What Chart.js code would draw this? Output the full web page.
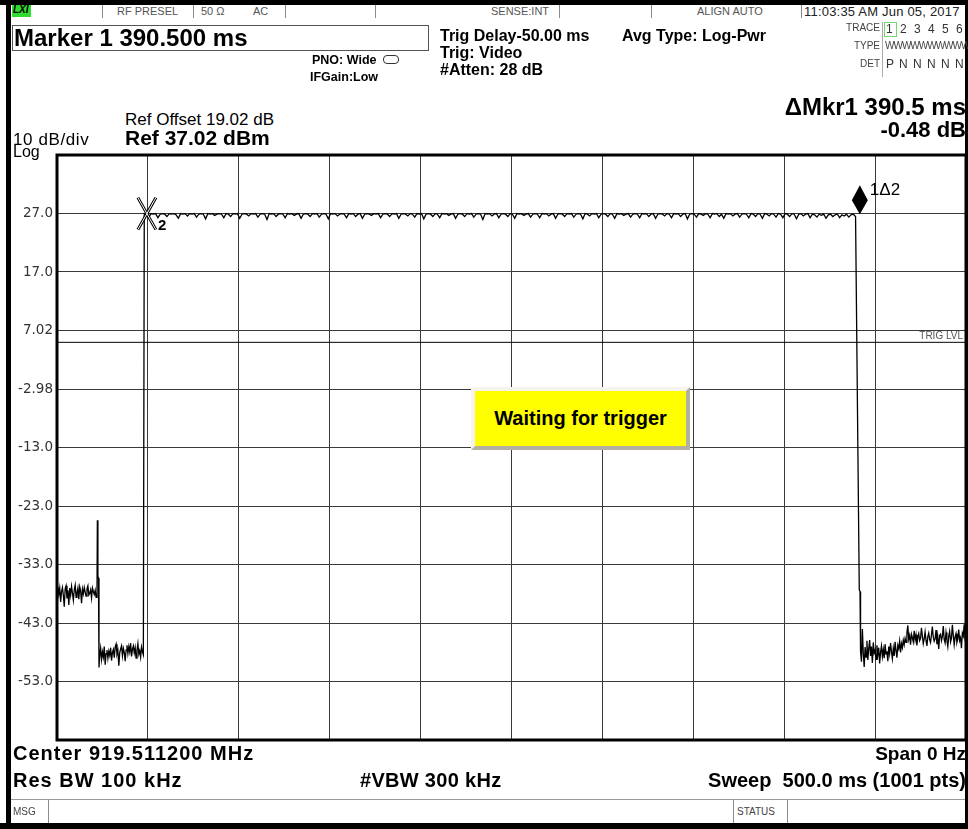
<!DOCTYPE html>
<html>
<head>
<meta charset="utf-8">
<script src="https://cdn.jsdelivr.net/npm/chart.js@4.4.0/dist/chart.umd.min.js"></script>
<style>
  body { margin: 0; background: #fff; }
  #screen { position: relative; width: 968px; height: 829px; overflow: hidden;
            font-family: "Liberation Sans", Arial, sans-serif; color: #000; background: #fff; }
  .t { position: absolute; white-space: pre; line-height: 1; }
  .b { font-weight: bold; }
  .bar { position: absolute; background: #000; }
  .sep { position: absolute; width: 1px; background: #8a8a8a; }
  .stat { font-size: 11px; color: #555; }
  .small { font-size: 10px; color: #444; }
  #plot { position: absolute; left: 12px; top: 141px; }
  #wait { position: absolute; left: 471px; top: 387px; width: 219px; height: 63px; box-sizing: border-box;
          border: 4px solid; border-color: #f6f4ec #b3afa3 #b3afa3 #f6f4ec; background: #ffff00;
          font-weight: bold; font-size: 20px; display: flex; align-items: center; justify-content: center; z-index: 3; }
</style>
</head>
<body>
<div id="screen">
  <canvas id="plot" width="956" height="613"></canvas>

  <!-- outer frame of the analyser screen -->
  <div class="bar" style="left:0;top:0;width:968px;height:5px"></div>
  <div class="bar" style="left:6px;top:0;width:5px;height:829px"></div>
  <div class="bar" style="left:965px;top:0;width:3px;height:829px"></div>
  <div class="bar" style="left:0;top:823px;width:968px;height:6px"></div>

  <!-- status row -->
  <div class="t b" style="left:12px;top:5px;width:18px;height:12px;background:#2fdc2f;font-size:10px;font-style:italic;padding-left:1px">LXI</div>
  <div class="sep" style="left:102px;top:5px;height:13px"></div>
  <div class="sep" style="left:193px;top:5px;height:13px"></div>
  <div class="sep" style="left:285px;top:5px;height:13px"></div>
  <div class="sep" style="left:375px;top:5px;height:13px"></div>
  <div class="sep" style="left:559px;top:5px;height:13px"></div>
  <div class="sep" style="left:651px;top:5px;height:13px"></div>
  <div class="sep" style="left:801px;top:5px;height:13px"></div>
  <div class="t stat" style="left:117px;top:6px">RF PRESEL</div>
  <div class="t stat" style="left:201px;top:6px">50 Ω</div>
  <div class="t stat" style="left:253px;top:6px">AC</div>
  <div class="t stat" style="left:491px;top:6px">SENSE:INT</div>
  <div class="t stat" style="left:697px;top:6px">ALIGN AUTO</div>
  <div class="t" style="left:804px;top:5px;font-size:13px;color:#222;letter-spacing:0.2px">11:03:35 AM Jun 05, 2017</div>

  <!-- marker box and settings -->
  <div style="position:absolute;left:12px;top:25px;width:415px;height:24px;border:1px solid #555"></div>
  <div class="t b" style="left:14px;top:26px;font-size:24px">Marker 1 390.500 ms</div>
  <div class="t b" style="left:312px;top:54px;font-size:12.5px">PNO: Wide</div>
  <div style="position:absolute;left:383px;top:55px;width:14px;height:7px;border:1.5px solid #333;border-radius:4px"></div>
  <div class="t b" style="left:310px;top:71px;font-size:12.5px">IFGain:Low</div>
  <div class="t b" style="left:440px;top:28px;font-size:16px">Trig Delay-50.00 ms</div>
  <div class="t b" style="left:440px;top:45px;font-size:16px">Trig: Video</div>
  <div class="t b" style="left:440px;top:62px;font-size:16px">#Atten: 28 dB</div>
  <div class="t b" style="left:622px;top:28px;font-size:16px">Avg Type: Log-Pwr</div>

  <!-- trace table -->
  <div class="t small" style="right:88px;top:23px">TRACE</div>
  <div class="t small" style="right:88px;top:41px">TYPE</div>
  <div class="t small" style="right:88px;top:59px">DET</div>
  <div class="sep" style="left:882px;top:22px;height:55px;background:#aaa"></div>
  <div style="position:absolute;left:884px;top:22px;width:11px;height:13px;border:1px solid #6fd86f"></div>
  <div class="t" style="left:886px;top:23px;font-size:12px;color:#333;letter-spacing:2px">1 2 3 4 5 6</div>
  <div class="t" style="left:885px;top:41px;font-size:10px;color:#444;letter-spacing:-1px">WWWWWWWWWWW</div>
  <div class="t" style="left:886px;top:58px;font-size:12px;color:#333;letter-spacing:1px">P N N N N N</div>

  <!-- delta marker readout and reference -->
  <div class="t b" style="right:2px;top:95px;font-size:24px">ΔMkr1 390.5 ms</div>
  <div class="t b" style="right:2px;top:119px;font-size:22px">-0.48 dB</div>
  <div class="t" style="left:125px;top:111px;font-size:17px">Ref Offset 19.02 dB</div>
  <div class="t b" style="left:125px;top:127px;font-size:21px">Ref 37.02 dBm</div>
  <div class="t" style="left:13px;top:131px;font-size:17px;letter-spacing:0.6px">10 dB/div</div>
  <div class="t" style="left:13px;top:144px;font-size:16px">Log</div>

  <div id="wait">Waiting for trigger</div>

  <!-- bottom settings -->
  <div class="t b" style="left:13px;top:743px;font-size:20px;letter-spacing:1px">Center 919.511200 MHz</div>
  <div class="t b" style="right:2px;top:744px;font-size:19px">Span 0 Hz</div>
  <div class="t b" style="left:13px;top:770px;font-size:20px;letter-spacing:1px">Res BW 100 kHz</div>
  <div class="t b" style="left:360px;top:770px;font-size:20px;letter-spacing:0.3px">#VBW 300 kHz</div>
  <div class="t b" style="right:2px;top:770px;font-size:20px">Sweep  500.0 ms (1001 pts)</div>

  <!-- message row -->
  <div style="position:absolute;left:11px;top:799px;width:954px;height:1px;background:#999"></div>
  <div class="t small" style="left:13px;top:807px">MSG</div>
  <div class="sep" style="left:48px;top:800px;height:23px"></div>
  <div class="sep" style="left:733px;top:800px;height:23px"></div>
  <div class="t small" style="left:737px;top:807px">STATUS</div>
  <div class="sep" style="left:787px;top:800px;height:23px"></div>
</div>

<script>
// ---- sweep data (time in ms, level in dBm) ----
const sweepSpanMs = 500;
const timeTicksMs = [0, 50, 100, 150, 200, 250, 300, 350, 400, 450, 500];
const yTickValues = [37.02, 27.02, 17.02, 7.02, -2.98, -12.98, -22.98, -32.98, -42.98, -52.98, -62.98];
const yTickLabels = ['', '27.0', '17.0', '7.02', '-2.98', '-13.0', '-23.0', '-33.0', '-43.0', '-53.0', ''];

// before the burst: 0 .. 22 ms, every 0.5 ms
const preStartMs = 0;
const preStepMs = 0.5;
const preLevels = [
  -37.2, -36.8, -38.1, -37.0, -39.4, -37.6, -36.9, -38.3, -40.2, -37.1,
  -36.6, -38.8, -37.4, -39.9, -37.0, -38.2, -36.7, -37.9, -39.1, -37.3,
  -36.5, -38.6, -37.8, -37.0, -38.9, -36.8, -37.5, -39.6, -37.2, -38.0,
  -36.9, -37.7, -38.4, -37.1, -36.6, -38.2, -37.9, -37.3, -38.7, -37.0,
  -37.6, -38.1, -37.4, -38.6, -38.3
];
// spike and step down around 22 ms
const spikeTimes = [22.2, 22.5, 22.8, 23.1];
const spikeLevels = [-25.4, -35.0, -35.3, -50.6];

// off period: 23.5 .. 47.5 ms, every 0.5 ms
const offStartMs = 23.5;
const offStepMs = 0.5;
const offLevels = [
  -48.6, -47.3, -49.2, -47.9, -48.8, -47.0, -50.1, -48.2, -47.6, -49.0,
  -47.8, -48.5, -47.2, -49.4, -48.0, -47.5, -48.9, -47.1, -46.6, -48.3,
  -47.7, -50.3, -48.1, -47.4, -46.9, -48.6, -47.3, -48.0, -49.5, -47.6,
  -46.8, -48.2, -47.0, -47.9, -46.4, -48.7, -47.5, -46.9, -48.1, -47.2,
  -49.0, -47.6, -46.5, -48.3, -47.7, -48.8, -47.1, -47.9, -48.4
];

// burst: 48 .. 439.25 ms, every 1.25 ms
const burstStartMs = 48;
const burstStepMs = 1.25;
const burstLevels = [
  27.0, 26.9, 26.4, 27.0, 26.9, 27.0, 26.3, 26.9, 27.0, 26.9,
  26.5, 27.0, 26.9, 27.0, 26.8, 26.2, 27.0, 26.9, 27.0, 26.6,
  27.0, 26.9, 27.0, 26.4, 26.9, 27.0, 26.9, 26.1, 27.0, 26.9,
  27.0, 26.7, 26.9, 27.0, 26.9, 26.3, 27.0, 26.9, 26.5, 27.0,
  26.9, 27.0, 26.2, 26.9, 27.0, 26.9, 26.6, 27.0, 26.9, 27.0,
  26.4, 26.9, 27.0, 26.9, 26.0, 27.0, 26.9, 27.0, 26.5, 26.9,
  27.0, 26.9, 26.3, 27.0, 26.9, 27.0, 26.7, 26.9, 27.0, 26.2,
  26.9, 27.0, 26.9, 26.5, 27.0, 26.9, 27.0, 26.4, 26.9, 27.0,
  26.9, 26.1, 27.0, 26.9, 27.0, 26.6, 26.9, 27.0, 26.9, 26.3,
  27.0, 26.9, 27.0, 26.5, 26.9, 27.0, 26.2, 26.9, 27.0, 26.9,
  26.7, 27.0, 26.9, 27.0, 26.3, 26.9, 27.0, 26.9, 26.5, 27.0,
  26.9, 27.0, 26.2, 26.9, 27.0, 26.9, 26.6, 27.0, 26.9, 26.4,
  27.0, 26.9, 27.0, 26.1, 26.9, 27.0, 26.9, 26.5, 27.0, 26.9,
  26.3, 27.0, 26.9, 27.0, 26.7, 26.9, 27.0, 26.2, 26.9, 27.0,
  26.9, 26.5, 27.0, 26.9, 27.0, 26.4, 26.9, 27.0, 26.9, 26.0,
  27.0, 26.9, 27.0, 26.6, 26.9, 27.0, 26.3, 26.9, 27.0, 26.9,
  26.5, 27.0, 26.9, 26.2, 27.0, 26.9, 27.0, 26.7, 26.9, 27.0,
  26.4, 26.9, 27.0, 26.9, 26.3, 27.0, 26.9, 27.0, 26.6, 26.9,
  27.0, 26.2, 26.9, 27.0, 26.9, 26.5, 27.0, 26.9, 27.0, 26.4,
  26.9, 27.0, 26.9, 26.1, 27.0, 26.9, 26.6, 27.0, 26.9, 27.0,
  26.3, 26.9, 27.0, 26.9, 26.5, 27.0, 26.9, 26.2, 27.0, 26.9,
  27.0, 26.7, 26.9, 27.0, 26.4, 26.9, 27.0, 26.9, 26.3, 27.0,
  26.9, 27.0, 26.5, 26.9, 27.0, 26.2, 26.9, 27.0, 26.9, 26.6,
  27.0, 26.9, 26.3, 27.0, 26.9, 27.0, 26.5, 26.9, 27.0, 26.1,
  26.9, 27.0, 26.9, 26.4, 27.0, 26.9, 26.7, 27.0, 26.9, 26.3,
  27.0, 26.9, 27.0, 26.5, 26.9, 26.2, 27.0, 26.9, 27.0, 26.6,
  26.9, 27.0, 26.4, 26.9, 27.0, 26.9, 26.3, 27.0, 26.9, 26.5,
  27.0, 26.9, 26.2, 27.0, 26.9, 26.6, 27.0, 26.9, 26.4, 27.0,
  26.9, 26.3, 27.0, 26.9, 26.5, 27.0, 26.9, 26.1, 26.9, 27.0,
  26.6, 26.9, 27.0, 26.3, 26.9, 26.8, 26.4, 26.9, 26.7, 26.9,
  26.2, 26.8, 26.9, 26.5, 26.8, 26.9, 26.3, 26.8, 26.6, 26.9,
  26.4, 26.8, 26.9, 26.5
];
// falling edge
const fallTimes = [441.3, 441.7];
const fallLevels = [-37.3, -37.6];

// after the burst: 442 .. 500 ms, every 0.5 ms
const postStartMs = 442;
const postStepMs = 0.5;
const postLevels = [
  -47.9, -49.6, -44.0, -48.2, -50.5, -47.1, -48.8, -46.0, -49.3, -47.4,
  -45.9, -48.6, -47.0, -49.8, -46.3, -48.1, -47.6, -49.2, -46.8, -48.4,
  -47.2, -49.9, -48.0, -46.9, -48.7, -47.5, -49.0, -46.6, -48.3, -47.8,
  -49.5, -47.0, -48.2, -46.4, -47.9, -49.1, -47.3, -48.6, -46.2, -47.7,
  -48.9, -46.8, -47.4, -46.1, -48.0, -46.5, -47.2, -45.9, -46.7, -45.6,
  -46.3,
  -44.6, -43.4, -45.8, -45.1, -46.7, -44.9, -45.5, -46.2, -44.3, -45.9,
  -45.0, -46.8, -45.4, -44.8, -46.0, -45.6, -43.8, -45.2, -46.5, -45.7,
  -44.5, -45.9, -46.9, -45.3, -44.7, -45.8, -46.3, -45.0, -43.6, -45.4,
  -46.1, -45.7, -44.2, -46.6, -45.5, -47.4, -45.1, -44.9, -46.0, -45.3,
  -43.5, -45.8, -46.4, -44.6, -45.9, -47.0, -45.2, -44.4, -46.2, -45.6,
  -43.3, -45.1, -46.7, -45.4, -44.8, -46.3, -45.7, -44.1, -46.0, -45.5,
  -47.3, -44.7, -45.2, -43.2, -45.9, -46.4
];

const trigLevelDbm = 5.0;
const marker1 = { t: 440.5, level: 26.9, label: '1Δ2' };
const marker2 = { t: 50.0, level: 27.0, label: '2' };

// ---- build the trace points ----
function segment(start, step, levels) {
  return levels.map((v, i) => ({ x: start + i * step, y: v }));
}
function pairs(times, levels) {
  return times.map((t, i) => ({ x: t, y: levels[i] }));
}

const tracePoints = [
  ...segment(preStartMs, preStepMs, preLevels),
  ...pairs(spikeTimes, spikeLevels),
  ...segment(offStartMs, offStepMs, offLevels),
  ...segment(burstStartMs, burstStepMs, burstLevels),
  ...pairs(fallTimes, fallLevels),
  ...segment(postStartMs, postStepMs, postLevels)
];

// ---- overlay: frame, trigger label and markers ----
const overlayPlugin = {
  id: 'saOverlay',
  afterDatasetsDraw(chart) {
    const { ctx, chartArea: a, scales: { x, y } } = chart;
    ctx.save();

    // plot frame
    ctx.strokeStyle = '#000';
    ctx.lineWidth = 3;
    ctx.strokeRect(a.left, a.top, a.right - a.left, a.bottom - a.top);

    // TRIG LVL text
    const ty = y.getPixelForValue(trigLevelDbm);
    ctx.fillStyle = '#555';
    ctx.font = '10px "Liberation Sans Narrow", "Liberation Sans", Arial';
    ctx.textAlign = 'right';
    ctx.textBaseline = 'bottom';
    ctx.fillText('TRIG LVL', a.right - 3, ty - 1);

    // marker 2: hollow X
    const x2 = x.getPixelForValue(marker2.t) - 1;
    const y2 = y.getPixelForValue(marker2.level);
    const hw = 9, hh = 16;
    const diagonals = [[-hw, -hh, hw, hh], [hw, -hh, -hw, hh]];
    [['#000', 3], ['#fff', 1]].forEach(([col, w]) => {
      diagonals.forEach(([ax, ay, bx, by]) => {
        ctx.beginPath();
        ctx.moveTo(x2 + ax, y2 + ay);
        ctx.lineTo(x2 + bx, y2 + by);
        ctx.strokeStyle = col;
        ctx.lineWidth = w;
        ctx.stroke();
      });
    });
    ctx.fillStyle = '#000';
    ctx.font = 'bold 15px "Liberation Sans", Arial';
    ctx.textAlign = 'left';
    ctx.textBaseline = 'alphabetic';
    ctx.fillText(marker2.label, x2 + 11, y2 + 16);

    // marker 1: filled diamond sitting on the trace
    const x1 = x.getPixelForValue(marker1.t) + 2;
    const y1 = y.getPixelForValue(marker1.level);
    ctx.beginPath();
    ctx.moveTo(x1, y1);
    ctx.lineTo(x1 + 8, y1 - 14);
    ctx.lineTo(x1, y1 - 29);
    ctx.lineTo(x1 - 8, y1 - 14);
    ctx.closePath();
    ctx.fill();
    ctx.font = '17px "Liberation Sans", Arial';
    ctx.fillText(marker1.label, x1 + 10, y1 - 19);

    ctx.restore();
  }
};

new Chart(document.getElementById('plot'), {
  type: 'line',
  data: {
    datasets: [
      {
        label: 'Trace 1',
        data: tracePoints,
        borderColor: '#000',
        borderWidth: 1.3,
        pointRadius: 0,
        tension: 0
      },
      {
        label: 'Trig level',
        data: [{ x: 0, y: trigLevelDbm }, { x: sweepSpanMs, y: trigLevelDbm }],
        borderColor: '#000',
        borderWidth: 1,
        pointRadius: 0
      }
    ]
  },
  options: {
    responsive: false,
    animation: false,
    layout: { padding: { top: 14, right: 2, bottom: 14, left: 0 } },
    plugins: { legend: { display: false }, tooltip: { enabled: false } },
    scales: {
      x: {
        type: 'linear',
        min: 0,
        max: sweepSpanMs,
        afterBuildTicks: s => { s.ticks = timeTicksMs.map(v => ({ value: v })); },
        afterFit: s => { s.height = 0; },
        ticks: { display: false },
        grid: { color: '#3a3a3a', lineWidth: 1, drawTicks: false },
        border: { display: false }
      },
      y: {
        min: yTickValues[yTickValues.length - 1],
        max: yTickValues[0],
        afterBuildTicks: s => { s.ticks = yTickValues.slice().reverse().map(v => ({ value: v })); },
        afterFit: s => { s.width = 45; },
        ticks: {
          padding: 4,
          color: '#333',
          font: { family: '"DejaVu Sans", "Liberation Sans", Arial', size: 13.5 },
          callback: v => yTickLabels[yTickValues.indexOf(v)]
        },
        grid: { color: '#3a3a3a', lineWidth: 1, drawTicks: false },
        border: { display: false }
      }
    }
  },
  plugins: [overlayPlugin]
});
</script>
</body>
</html>
